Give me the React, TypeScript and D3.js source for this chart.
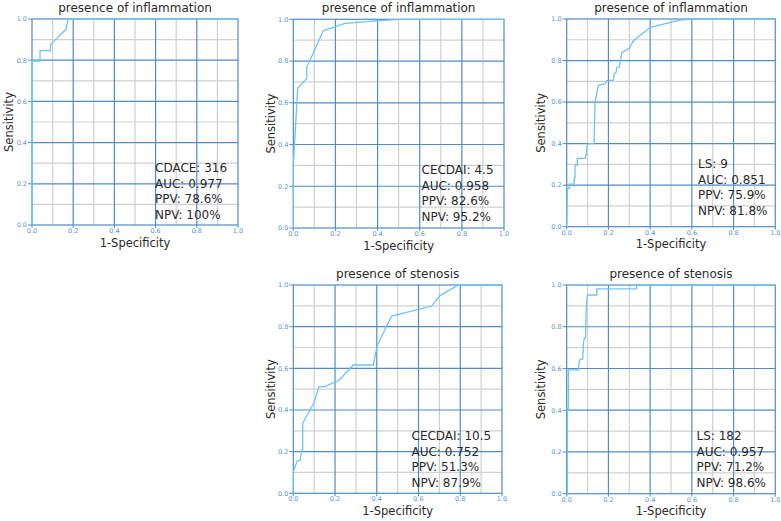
import React from "react";
import * as d3 from "d3";

// ---- data ----
const titles = [
  "presence of inflammation",
  "presence of inflammation",
  "presence of inflammation",
  "presence of stenosis",
  "presence of stenosis",
];
const xLabel = "1-Specificity";
const yLabel = "Sensitivity";
const tickValues = [0, 0.2, 0.4, 0.6, 0.8, 1.0];
const tickLabels = ["0.0", "0.2", "0.4", "0.6", "0.8", "1.0"];

const fpr1 = [0, 0, 0.039, 0.039, 0.09, 0.09, 0.104, 0.165, 0.176, 1.0];
const tpr1 = [0, 0.796, 0.796, 0.846, 0.846, 0.874, 0.89, 0.95, 1.0, 1.0];

const fpr2 = [0, 0, 0.021, 0.064, 0.064, 0.142, 0.245, 0.396, 0.5, 1.0];
const tpr2 = [0, 0.3, 0.669, 0.717, 0.77, 0.945, 0.98, 0.992, 1.0, 1.0];

const fpr3 = [0, 0.003, 0.013, 0.013, 0.035, 0.037, 0.04, 0.04, 0.051, 0.051, 0.088, 0.093, 0.099, 0.104, 0.131, 0.136, 0.152, 0.184, 0.192, 0.224, 0.227, 0.236, 0.24, 0.252, 0.264, 0.3, 0.319, 0.4, 0.543, 0.6, 1.0];
const tpr3 = [0, 0.185, 0.185, 0.205, 0.205, 0.237, 0.237, 0.297, 0.297, 0.329, 0.329, 0.345, 0.393, 0.4, 0.4, 0.6, 0.682, 0.687, 0.703, 0.706, 0.738, 0.741, 0.767, 0.77, 0.838, 0.859, 0.894, 0.96, 0.995, 1.0, 1.0];

const fpr4 = [0, 0, 0.003, 0.019, 0.032, 0.04, 0.045, 0.045, 0.099, 0.123, 0.152, 0.22, 0.288, 0.383, 0.403, 0.471, 0.663, 0.703, 0.791, 1.0];
const tpr4 = [0, 0.104, 0.112, 0.157, 0.157, 0.208, 0.208, 0.336, 0.435, 0.512, 0.512, 0.544, 0.616, 0.616, 0.712, 0.851, 0.899, 0.949, 1.0, 1.0];

const fpr5 = [0, 0.003, 0.003, 0.008, 0.008, 0.056, 0.059, 0.064, 0.077, 0.08, 0.085, 0.09, 0.093, 0.099, 0.144, 0.144, 0.335, 0.335, 1.0];
const tpr5 = [0, 0.0, 0.409, 0.409, 0.593, 0.593, 0.625, 0.645, 0.645, 0.72, 0.748, 0.748, 0.875, 0.952, 0.952, 0.981, 0.981, 1.0, 1.0];

const cutoffs = ["CDACE: 316", "CECDAI: 4.5", "LS: 9", "CECDAI: 10.5", "LS: 182"];
const aucs = ["AUC: 0.977", "AUC: 0.958", "AUC: 0.851", "AUC: 0.752", "AUC: 0.957"];
const ppvs = ["PPV: 78.6%", "PPV: 82.6%", "PPV: 75.9%", "PPV: 51.3%", "PPV: 71.2%"];
const npvs = ["NPV: 100%", "NPV: 95.2%", "NPV: 81.8%", "NPV: 87.9%", "NPV: 98.6%"];

const fprs = [fpr1, fpr2, fpr3, fpr4, fpr5];
const tprs = [tpr1, tpr2, tpr3, tpr4, tpr5];

// ---- layout ----
const panels = [
  { x0: 32, x1: 238, y0: 225, y1: 19, yLabX: 8, textX: 155, textY: 172 },
  { x0: 293.3, x1: 504, y0: 228, y1: 19.3, yLabX: 270, textX: 421.5, textY: 174 },
  { x0: 566.7, x1: 775.3, y0: 226.7, y1: 19, yLabX: 540, textX: 698, textY: 168 },
  { x0: 293.3, x1: 502, y0: 493.3, y1: 285, yLabX: 270, textX: 411.5, textY: 440 },
  { x0: 566.7, x1: 775.3, y0: 493.7, y1: 285, yLabX: 540, textX: 696.5, textY: 440 },
];

const MAJOR = "#4f8cc9";
const MINOR = "#d0d0d0";
const CURVE = "#6ec3f2";
const TICK = "#5b95cf";
const FONT = "'DejaVu Sans', sans-serif";
const TEXT = "#2a2a2a";

function Panel({ i }: { i: number }) {
  const p = panels[i];
  const x = d3.scaleLinear().domain([0, 1]).range([p.x0, p.x1]);
  const y = d3.scaleLinear().domain([0, 1]).range([p.y0, p.y1]);
  const pts: [number, number][] = fprs[i].map((f, k) => [f, tprs[i][k]]);
  const line = d3
    .line<[number, number]>()
    .x((d) => x(d[0]))
    .y((d) => y(d[1]));
  const minor = d3.range(1, 10, 2).map((v) => v / 10);
  const major = [0.2, 0.4, 0.6, 0.8];
  const cx = (p.x0 + p.x1) / 2;
  const cy = (p.y0 + p.y1) / 2;
  const lines = [cutoffs[i], aucs[i], ppvs[i], npvs[i]];
  return (
    <g>
      {minor.map((v) => (
        <g key={"m" + v}>
          <line x1={x(v)} x2={x(v)} y1={p.y0} y2={p.y1} stroke={MINOR} strokeWidth={1.2} />
          <line x1={p.x0} x2={p.x1} y1={y(v)} y2={y(v)} stroke={MINOR} strokeWidth={1.2} />
        </g>
      ))}
      {major.map((v) => (
        <g key={"M" + v}>
          <line x1={x(v)} x2={x(v)} y1={p.y0} y2={p.y1} stroke={MAJOR} strokeWidth={1.2} />
          <line x1={p.x0} x2={p.x1} y1={y(v)} y2={y(v)} stroke={MAJOR} strokeWidth={1.2} />
        </g>
      ))}
      <rect x={p.x0} y={p.y1} width={p.x1 - p.x0} height={p.y0 - p.y1} fill="none" stroke={MAJOR} strokeWidth={1.2} />
      {tickValues.map((v, k) => (
        <g key={"t" + v}>
          <line x1={x(v)} x2={x(v)} y1={p.y0} y2={p.y0 + 3} stroke={MAJOR} strokeWidth={1} />
          <line x1={p.x0 - 4} x2={p.x0} y1={y(v)} y2={y(v)} stroke={MAJOR} strokeWidth={1} />
          <text x={x(v)} y={p.y0 + 8} fontSize={6.5} fill={TICK} textAnchor="middle" fontFamily={FONT}>
            {tickLabels[k]}
          </text>
          <text x={p.x0 - 5} y={y(v) + 2.3} fontSize={6.5} fill={TICK} textAnchor="end" fontFamily={FONT}>
            {tickLabels[k]}
          </text>
        </g>
      ))}
      <path d={line(pts) || ""} fill="none" stroke={CURVE} strokeWidth={1.3} />
      <text x={cx} y={12 + (p.y1 - 19)} fontSize={12} fill={TEXT} textAnchor="middle" fontFamily={FONT}>
        {titles[i]}
      </text>
      <text x={cx} y={p.y0 + 21.5} fontSize={11.5} fill={TEXT} textAnchor="middle" fontFamily={FONT}>
        {xLabel}
      </text>
      <text
        transform={`translate(${p.yLabX + 4.5},${cy}) rotate(-90)`}
        fontSize={11.5}
        fill={TEXT}
        textAnchor="middle"
        fontFamily={FONT}
      >
        {yLabel}
      </text>
      {lines.map((s, k) => (
        <text key={"a" + k} x={p.textX} y={p.textY + k * 15.6} fontSize={12} fill={TEXT} fontFamily={FONT}>
          {s}
        </text>
      ))}
    </g>
  );
}

export default function App() {
  return (
    <svg
      width={781}
      height={521}
      style={{ position: "absolute", left: 0, top: 0, background: "#fff" }}
    >
      <rect width={781} height={521} fill="#fff" />
      {panels.map((_, i) => (
        <Panel key={i} i={i} />
      ))}
    </svg>
  );
}
